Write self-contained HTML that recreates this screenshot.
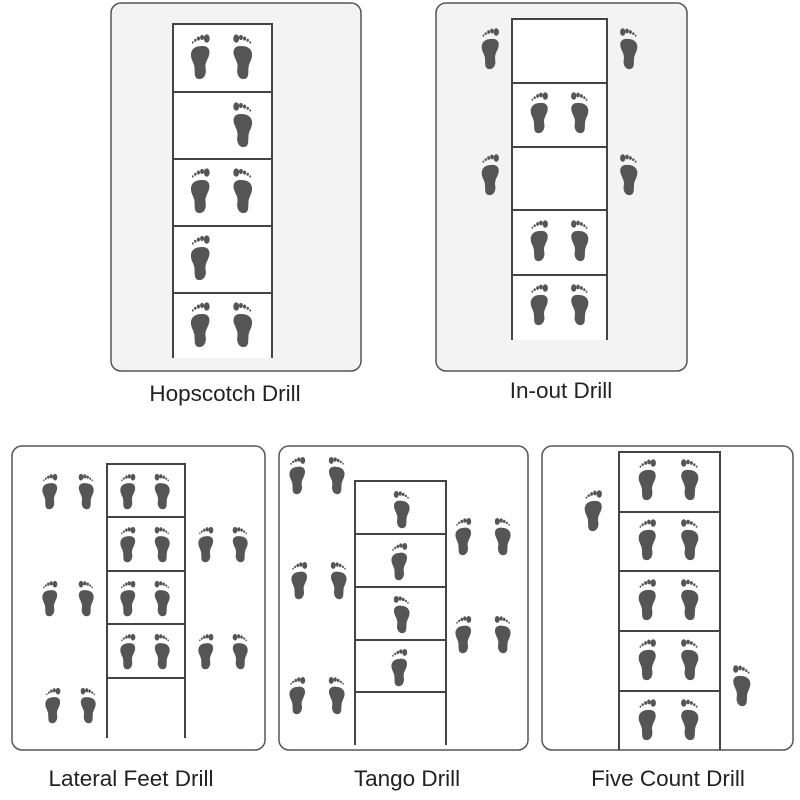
<!DOCTYPE html>
<html><head><meta charset="utf-8"><style>
body{margin:0;background:#fff;}
svg{display:block}
text{font-family:"Liberation Sans",sans-serif;font-size:22.5px;fill:#222}
</style></head><body>
<svg width="800" height="800" viewBox="0 0 800 800">
<defs>
<g id="F">
<path d="M12,13 C19,12 22,16 20,22 C18,27 16,29 17,34 C18,40 14,44 10,43 C5,42 7,36 6,31 C5,27 2,24 3,19 C4,15 8,13 12,13 Z" fill="#555"/>
<ellipse cx="18" cy="6" rx="2.8" ry="3.8" fill="#555"/>
<ellipse cx="13.5" cy="5" rx="1.9" ry="2.4" fill="#555"/>
<ellipse cx="10" cy="6" rx="1.5" ry="1.9" fill="#555"/>
<ellipse cx="7" cy="7.6" rx="1.2" ry="1.4" fill="#555"/>
<ellipse cx="4.6" cy="9.6" rx="0.9" ry="1.1" fill="#555"/>
</g>
<symbol id="L" viewBox="0 0 24 44" preserveAspectRatio="none"><use href="#F"/></symbol>
<symbol id="R" viewBox="0 0 24 44" preserveAspectRatio="none"><g transform="translate(24,0) scale(-1,1)"><use href="#F"/></g></symbol>
</defs>
<g fill="none" stroke-width="1.5">
<rect x="111" y="3" width="250" height="368" rx="10" fill="#f3f3f3" stroke="#555"/>
<rect x="436" y="3" width="251" height="368" rx="10" fill="#f3f3f3" stroke="#555"/>
<rect x="12" y="446" width="253" height="304" rx="10" stroke="#555"/>
<rect x="279" y="446" width="249" height="304" rx="10" stroke="#555"/>
<rect x="542" y="446" width="251" height="304" rx="10" stroke="#555"/>
</g>
<rect x="174" y="25" width="97" height="333" fill="#fff"/>
<rect x="513" y="20" width="93" height="320" fill="#fff"/>
<g stroke="#444" stroke-width="2" fill="none">
<path d="M173,358V24H272V358M173,92H272M173,159H272M173,226H272M173,293H272"/>
<path d="M512,340V19H607V340M512,83H607M512,147H607M512,210H607M512,275H607"/>
<path d="M107,738V464H185V738M107,517H185M107,571H185M107,624H185M107,678H185"/>
<path d="M355,745V481H446V745M355,534H446M355,587H446M355,640H446M355,692H446"/>
<path d="M619,750V452H720V750M619,512H720M619,571H720M619,631H720M619,691H720"/>
</g>
<g>
<use href="#L" x="188" y="32" width="25" height="48"/><use href="#R" x="230" y="32" width="25" height="48"/>
<use href="#R" x="230" y="100" width="25" height="48"/>
<use href="#L" x="188" y="166" width="25" height="48"/><use href="#R" x="230" y="166" width="25" height="48"/>
<use href="#L" x="188" y="233" width="25" height="48"/>
<use href="#L" x="188" y="300" width="25" height="48"/><use href="#R" x="230" y="300" width="25" height="48"/>

<use href="#L" x="479" y="26" width="23" height="44"/><use href="#R" x="617" y="26" width="23" height="44"/>
<use href="#L" x="479" y="152" width="23" height="44"/><use href="#R" x="617" y="152" width="23" height="44"/>
<use href="#L" x="528" y="90" width="23" height="44"/><use href="#R" x="568" y="90" width="23" height="44"/>
<use href="#L" x="528" y="218" width="23" height="44"/><use href="#R" x="568" y="218" width="23" height="44"/>
<use href="#L" x="528" y="282" width="23" height="44"/><use href="#R" x="568" y="282" width="23" height="44"/>

<use href="#L" x="40" y="472" width="20" height="38"/><use href="#R" x="76" y="472" width="20" height="38"/>
<use href="#L" x="40" y="579" width="20" height="38"/><use href="#R" x="76" y="579" width="20" height="38"/>
<use href="#L" x="43" y="686" width="20" height="38"/><use href="#R" x="78" y="686" width="20" height="38"/>
<use href="#L" x="118" y="472" width="20" height="38"/><use href="#R" x="152" y="472" width="20" height="38"/>
<use href="#L" x="118" y="525" width="20" height="38"/><use href="#R" x="152" y="525" width="20" height="38"/>
<use href="#L" x="118" y="579" width="20" height="38"/><use href="#R" x="152" y="579" width="20" height="38"/>
<use href="#L" x="118" y="632" width="20" height="38"/><use href="#R" x="152" y="632" width="20" height="38"/>
<use href="#L" x="196" y="525" width="20" height="38"/><use href="#R" x="230" y="525" width="20" height="38"/>
<use href="#L" x="196" y="632" width="20" height="38"/><use href="#R" x="230" y="632" width="20" height="38"/>

<use href="#L" x="287" y="455" width="21" height="40"/><use href="#R" x="326" y="455" width="21" height="40"/>
<use href="#L" x="289" y="560" width="21" height="40"/><use href="#R" x="328" y="560" width="21" height="40"/>
<use href="#L" x="287" y="675" width="21" height="40"/><use href="#R" x="326" y="675" width="21" height="40"/>
<use href="#R" x="391" y="489" width="21" height="40"/>
<use href="#L" x="389" y="541" width="21" height="40"/>
<use href="#R" x="391" y="594" width="21" height="40"/>
<use href="#L" x="389" y="647" width="21" height="40"/>
<use href="#L" x="453" y="516" width="21" height="40"/><use href="#R" x="492" y="516" width="21" height="40"/>
<use href="#L" x="453" y="614" width="21" height="40"/><use href="#R" x="492" y="614" width="21" height="40"/>

<use href="#L" x="636" y="457" width="23" height="44"/><use href="#R" x="678" y="457" width="23" height="44"/>
<use href="#L" x="636" y="517" width="23" height="44"/><use href="#R" x="678" y="517" width="23" height="44"/>
<use href="#L" x="636" y="577" width="23" height="44"/><use href="#R" x="678" y="577" width="23" height="44"/>
<use href="#L" x="636" y="637" width="23" height="44"/><use href="#R" x="678" y="637" width="23" height="44"/>
<use href="#L" x="636" y="697" width="23" height="44"/><use href="#R" x="678" y="697" width="23" height="44"/>
<use href="#L" x="582" y="488" width="23" height="44"/>
<use href="#R" x="730" y="663" width="23" height="44"/>
</g>
<text x="225" y="401" text-anchor="middle">Hopscotch Drill</text>
<text x="561" y="398" text-anchor="middle">In-out Drill</text>
<text x="131" y="786" text-anchor="middle">Lateral Feet Drill</text>
<text x="407" y="786" text-anchor="middle">Tango Drill</text>
<text x="668" y="786" text-anchor="middle">Five Count Drill</text>
</svg>
</body></html>
